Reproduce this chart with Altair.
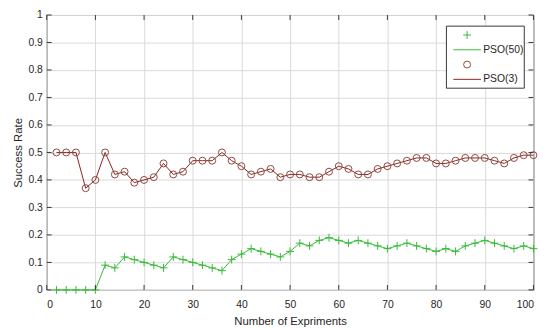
import altair as alt
import pandas as pd

# ---- data ----
x_vals = list(range(2, 101, 2))
pso50 = [0, 0, 0, 0, 0,
         0.09, 0.08, 0.12, 0.11, 0.10,
         0.09, 0.08, 0.12, 0.11, 0.10,
         0.09, 0.08, 0.07, 0.11, 0.13,
         0.15, 0.14, 0.13, 0.12, 0.14,
         0.17, 0.16, 0.18, 0.19, 0.18,
         0.17, 0.18, 0.17, 0.16, 0.15,
         0.16, 0.17, 0.16, 0.15, 0.14,
         0.15, 0.14, 0.16, 0.17, 0.18,
         0.17, 0.16, 0.15, 0.16, 0.15]
pso3 = [0.50, 0.50, 0.50, 0.37, 0.40,
        0.50, 0.42, 0.43, 0.39, 0.40,
        0.41, 0.46, 0.42, 0.43, 0.47,
        0.47, 0.47, 0.50, 0.47, 0.45,
        0.42, 0.43, 0.44, 0.41, 0.42,
        0.42, 0.41, 0.41, 0.43, 0.45,
        0.44, 0.42, 0.42, 0.44, 0.45,
        0.46, 0.47, 0.48, 0.48, 0.46,
        0.46, 0.47, 0.48, 0.48, 0.48,
        0.47, 0.46, 0.48, 0.49, 0.49]
x_ticks = list(range(0, 101, 10))
y_ticks = [round(i * 0.1, 1) for i in range(11)]
legend_labels = ["PSO(50)", "PSO(3)"]

df = pd.DataFrame({"x": x_vals, "pso50": pso50, "pso3": pso3})

# ---- style ----
W, H = 494, 279
FONT = "Liberation Sans"
FRAME = "#383838"
TXT = "#262626"
GREEN = "#36bb36"
RED_LINE = "#8b2222"
RED_MARK = "#8b4a40"
PLUS = "M-1,0H1M0,-1V1"

xs = alt.Scale(domain=[0, 100], nice=False, zero=False)
ys = alt.Scale(domain=[0, 1], nice=False)

x_axis = alt.Axis(values=x_ticks, title="Number of Expriments", grid=True,
                  ticks=False, domain=False, labelPadding=9.5, titlePadding=6,
                  format="d")
y_axis = alt.Axis(values=y_ticks, title="Success Rate", grid=True, ticks=False,
                  domain=False, labelPadding=4.5, titlePadding=4, format="~g")


def X(f):
    return alt.X(f, scale=xs, axis=x_axis)


def Y(f):
    return alt.Y(f, scale=ys, axis=y_axis)


base = alt.Chart(df)

g_line = base.mark_line(color=GREEN, strokeWidth=1).encode(x=X("x:Q"), y=Y("pso50:Q"))
g_pts = base.mark_point(shape=PLUS, filled=False, size=64, color=GREEN,
                        strokeWidth=1, opacity=1).encode(x=X("x:Q"), y=Y("pso50:Q"))
r_line = base.mark_line(color=RED_LINE, strokeWidth=1).encode(x=X("x:Q"), y=Y("pso3:Q"))
r_pts = base.mark_point(shape="circle", filled=False, size=50, color=RED_MARK,
                        strokeWidth=1, opacity=1).encode(x=X("x:Q"), y=Y("pso3:Q"))

# inward ticks on all four sides
xt = alt.Chart(pd.DataFrame({"t": x_ticks}))
yt = alt.Chart(pd.DataFrame({"t": y_ticks}))
tx_b = xt.mark_rule(color=FRAME, strokeWidth=1).encode(
    x=X("t:Q"), y=alt.value(H), y2=alt.value(H - 5))
tx_t = xt.mark_rule(color=FRAME, strokeWidth=1).encode(
    x=X("t:Q"), y=alt.value(0), y2=alt.value(5))
ty_l = yt.mark_rule(color=FRAME, strokeWidth=1).encode(
    y=Y("t:Q"), x=alt.value(0), x2=alt.value(5))
ty_r = yt.mark_rule(color=FRAME, strokeWidth=1).encode(
    y=Y("t:Q"), x=alt.value(W), x2=alt.value(W - 5))

# legend (MATLAB style: marker row, then line row with label)
one = alt.Chart(pd.DataFrame({"k": [0]}))
lx0, lx1 = 405.7, 484.7
ly0, ly1 = 11.3, 74.3
leg_box = one.mark_rect(fill="white", stroke=FRAME, strokeWidth=1).encode(
    x=alt.value(lx0), x2=alt.value(lx1), y=alt.value(ly0), y2=alt.value(ly1))
seg0, seg1, segc, tx = 412.7, 440.7, 426.7, 443
rows = [20.3, 35.3, 50.3, 65.3]
leg_m1 = one.mark_point(shape=PLUS, filled=False, size=64, color=GREEN,
                        strokeWidth=1, opacity=1).encode(
    x=alt.value(segc), y=alt.value(rows[0]))
leg_l1 = one.mark_rule(color=GREEN, strokeWidth=1).encode(
    x=alt.value(seg0), x2=alt.value(seg1), y=alt.value(rows[1]))
leg_t1 = one.mark_text(align="left", baseline="middle", fontSize=10.5, font=FONT,
                       color=TXT).encode(
    x=alt.value(tx), y=alt.value(rows[1]), text=alt.value(legend_labels[0]))
leg_m2 = one.mark_point(shape="circle", filled=False, size=50, color=RED_MARK,
                        strokeWidth=1, opacity=1).encode(
    x=alt.value(segc), y=alt.value(rows[2]))
leg_l2 = one.mark_rule(color=RED_LINE, strokeWidth=1).encode(
    x=alt.value(seg0), x2=alt.value(seg1), y=alt.value(rows[3]))
leg_t2 = one.mark_text(align="left", baseline="middle", fontSize=10.5, font=FONT,
                       color=TXT).encode(
    x=alt.value(tx), y=alt.value(rows[3]), text=alt.value(legend_labels[1]))

chart = alt.layer(
    g_line, g_pts, r_line, r_pts, tx_b, tx_t, ty_l, ty_r,
    leg_box, leg_m1, leg_l1, leg_t1, leg_m2, leg_l2, leg_t2
).properties(
    width=W, height=H, autosize="none",
    padding={"left": 39.3, "top": 4.7, "right": 8.7, "bottom": 37.3},
    background="white"
).configure_view(
    stroke=FRAME, strokeWidth=1
).configure_axis(
    labelFont=FONT, titleFont=FONT, labelFontSize=10.5, titleFontSize=11.5,
    labelColor=TXT, titleColor=TXT, titleFontWeight="normal",
    gridColor="#d9d9d9", gridWidth=1
)

chart.save("out.html", embed_options={"renderer": "svg", "actions": False})
